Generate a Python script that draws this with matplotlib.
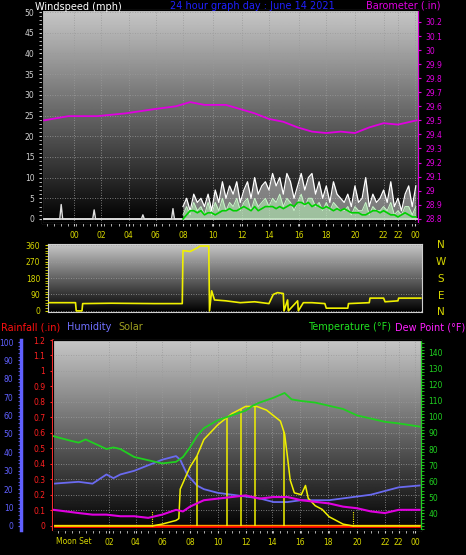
import matplotlib
matplotlib.use("Agg")
import matplotlib.pyplot as plt
import numpy as np

W, H = 466, 555

# ---- data (hours; axis runs slightly past both ends of the day) ----
baro_t = [-1.7, 0, 2, 4, 6, 7.5, 8.5, 9.5, 11, 12, 13, 14, 15, 16, 17, 18, 19, 20, 21, 22, 23, 24.3]
baro_v = [29.50, 29.53, 29.53, 29.55, 29.58, 29.60, 29.63, 29.61, 29.61, 29.58, 29.55, 29.51,
          29.49, 29.45, 29.42, 29.41, 29.42, 29.41, 29.45, 29.48, 29.47, 29.50]

calm_t = [-1.7, -0.6, -0.5, -0.4, 1.7, 1.8, 1.9, 5.1, 5.2, 5.3, 7.2, 7.3, 7.4, 7.9]
calm_gust = [0, 0, 3.5, 0, 0, 2.2, 0, 0, 1.0, 0, 0, 2.5, 0, 0]

wind_t0 = 8.0  # quarter-hour samples from here on
gust = [3, 5, 2, 6, 4, 5, 3, 6, 2,
        7, 4, 9, 5, 8, 6, 9, 4,
        7, 9, 5, 10, 6, 8, 9, 7,
        11, 8, 10, 6, 11, 9, 5, 8,
        11, 7, 10, 11, 6, 9, 5, 8,
        4, 9, 6, 5, 4, 6, 3, 8,
        4, 5, 10, 3, 6, 4, 5, 7,
        4, 9, 3, 5, 2, 6, 8, 3, 8]
speed = [1, 3, 1, 4, 2, 3, 1, 4, 1,
         4, 2, 5, 2, 4, 3, 5, 2,
         4, 5, 2, 5, 3, 4, 5, 3,
         5, 4, 6, 3, 5, 4, 2, 4,
         6, 3, 5, 5, 3, 4, 2, 4,
         2, 4, 3, 2, 2, 3, 1, 3,
         2, 2, 4, 1, 3, 2, 2, 3,
         2, 4, 1, 2, 1, 3, 3, 1, 3]
avg = [0, 1, 2, 2, 1.5, 2, 1, 1.5, 1.5,
       1, 1.5, 2, 2, 2.5, 2, 2, 2.5,
       3, 2.5, 2, 3, 2, 2.5, 3, 3,
       3, 2.5, 3, 2.5, 3, 3.5, 3, 4,
       4, 3.5, 4, 3, 3.5, 3, 2.5, 3,
       2.5, 2, 2.5, 2, 2.5, 2, 1.5, 1.5,
       1.5, 1, 1, 1.5, 2, 2, 1.5, 2,
       1.5, 1, 1, 0.5, 1, 1.5, 1, 0.5, 0.5]

dir_t = [-1.4, 0.5, 0.55, 0.95, 1.0, 3, 6, 7.95, 8.0, 8.5, 9.0, 9.2, 9.8, 9.85, 10.0, 10.2,
         11, 12, 13, 14, 14.3, 14.6, 15, 15.05, 15.3, 15.35, 16, 16.05, 16.4, 17, 17.9,
         18.0, 19.5, 19.55, 21, 21.05, 22, 22.1, 23, 23.05, 24.6]
dir_v = [45, 45, 0, 0, 40, 42, 40, 40, 330, 325, 345, 355, 355, 0, 110, 60,
         55, 45, 50, 40, 90, 100, 95, 0, 60, 0, 55, 0, 45, 45, 40,
         15, 15, 40, 45, 70, 70, 50, 55, 70, 70]

temp_t = [-1.8, -0.5, 0, 0.5, 1, 2, 2.5, 3, 4, 5, 6, 7, 7.5, 8, 8.5, 9, 10, 11, 12, 12.5,
          13, 14, 14.8, 15.3, 16, 17, 18, 19, 20, 21, 22, 23, 24.5]
temp_v = [88, 85, 84, 86, 84, 80, 81, 80, 75, 73, 71, 72, 75, 81, 88, 93, 98, 101, 104, 107,
          109, 112, 115, 111, 110, 109, 107, 105, 101, 99, 97, 96, 94]

hum_t = [-1.8, 0, 1, 2, 2.5, 3, 4, 5, 6, 7, 7.3, 7.8, 8.5, 9, 10, 11, 12, 13, 14, 15, 16,
         17, 18, 19, 20, 21, 22, 23, 24.5]
hum_v = [23, 24, 23, 28, 26, 28, 30, 33, 36, 38, 36, 28, 22, 20, 18, 17, 16, 15, 13, 13, 14,
         14, 14, 15, 16, 17, 19, 21, 22]

dew_t = [-1.8, 0, 1, 2, 3, 4, 5, 6, 7, 7.5, 8, 9, 10, 11, 12, 13, 14, 15, 16, 17, 18, 19,
         20, 21, 22, 23, 24.5]
dew_v = [42, 40, 39, 39, 38, 38, 37, 39, 42, 41, 44, 48, 49, 50, 51, 49, 50, 50, 48, 47,
         46, 44, 43, 41, 40, 42, 42]

solar_t = [-1.8, 5.3, 6, 7, 7.2, 7.3, 8, 8.5, 9, 10, 10.5, 11, 11.5, 12, 12.8, 13.5, 14,
           14.5, 14.8, 15, 15.2, 15.5, 16, 16.3, 16.5, 17, 17.5, 18, 19, 19.7, 24.5]
solar_v = [0, 0, 1, 3, 4, 20, 32, 38, 47, 55, 58, 61, 63, 65, 65, 63, 60,
           57, 50, 38, 25, 18, 17, 22, 15, 11, 9, 5, 1, 0, 0]
solar_spikes = [8.5, 10.65, 11.65, 12.67, 14.75]

top_ticks = [0.4, 2.3, 4.2, 6.1, 8, 10.1, 12.1, 14, 16.1, 18, 20, 22, 23, 24.2]
top_labels = ["00", "02", "04", "06", "08", "10", "12", "14", "16", "18", "20", "22", "22", "00"]
bot_ticks = [2.2, 4.1, 6.0, 8, 10, 12, 13.9, 15.9, 17.9, 20, 22, 23, 24.2]
bot_labels = ["02", "04", "06", "08", "10", "12", "14", "16", "18", "20", "22", "22", "00"]

YEL = "#d8d800"


def box(x0, y0, x1, y1):
    return [x0 / W, 1 - y1 / H, (x1 - x0) / W, (y1 - y0) / H]


def backdrop(ax):
    grad = np.linspace(0.78, 0.0, 256).reshape(-1, 1)
    ax.imshow(grad, extent=[0, 1, 0, 1], transform=ax.transAxes, cmap="gray",
              vmin=0, vmax=1, aspect="auto", zorder=0)
    ax.set_facecolor("black")
    ax.grid(True, color="#9a9a9a", ls=(0, (1, 2)), lw=0.6)
    for s in ax.spines.values():
        s.set_color("#d0d0d0")


fig = plt.figure(figsize=(W / 100, H / 100), dpi=100, facecolor="black")

# ---------------- wind / barometer ----------------
ax1 = fig.add_axes(box(42, 10, 418, 223))
backdrop(ax1)
ax1.set_xlim(-1.84, 24.4)
ax1.set_ylim(-0.97, 50.5)
ax1.set_yticks(range(0, 51, 5))
ax1.set_yticks(range(0, 51, 1), minor=True)
ax1.tick_params(axis="y", which="both", colors="#d0d0d0", labelsize=5.5, length=2)
ax1.set_xticks(top_ticks)
ax1.set_xticklabels(top_labels)
ax1.set_xticks(np.arange(-1.5, 24.4, 0.5), minor=True)
ax1.tick_params(axis="x", which="both", colors="#d0d0d0", labelcolor=YEL, labelsize=5.5, length=2)

wt = wind_t0 + 0.25 * np.arange(len(gust))
ax1.plot(calm_t, calm_gust, color="#e0e0e0", lw=1, zorder=3)
ax1.fill_between(wt, 0, gust, color="#d8d8d8", alpha=0.55, lw=0, zorder=3)
ax1.plot(wt, gust, color="white", lw=0.9, zorder=3)
ax1.fill_between(wt, 0, speed, color="#b8f0b8", alpha=0.6, lw=0, zorder=4)
ax1.plot(wt, speed, color="#c8f8c8", lw=0.7, zorder=4)
ax1.plot(wt, avg, color="#00d000", lw=1.2, zorder=5)
ax1.axhline(0, color="#e0e0e0", lw=1.2, zorder=2)

axb = ax1.twinx()
axb.set_ylim(28.77, 30.285)
bt = np.round(np.arange(28.8, 30.21, 0.1), 1)
axb.set_yticks(bt)
axb.set_yticklabels([f"{v:g}" for v in bt])
axb.tick_params(axis="y", colors="#e000e0", labelsize=5.5, length=2)
axb.spines["right"].set_color("#e000e0")
axb.plot(baro_t, baro_v, color="#e000e0", lw=1.3)

fig.text(35 / W, 1 - 7 / H, "Windspeed (mph)", color="white", fontsize=7, va="center")
fig.text(252 / W, 1 - 6 / H, "24 hour graph day : June 14 2021", color="#2020ff",
         fontsize=7, va="center", ha="center")
fig.text(440 / W, 1 - 6 / H, "Barometer (.in)", color="#e000e0", fontsize=7,
         va="center", ha="right")

# ---------------- wind direction ----------------
ax2 = fig.add_axes(box(48, 244, 422, 312))
backdrop(ax2)
ax2.set_xlim(-1.42, 24.68)
ax2.set_ylim(-6, 366)
ax2.set_yticks([0, 90, 180, 270, 360])
ax2.set_yticks(range(0, 361, 15), minor=True)
ax2.tick_params(axis="y", which="both", colors=YEL, labelsize=5.5, length=2)
ax2.set_xticks([])
ax2.plot(dir_t, dir_v, color="#f0f000", lw=1.2, zorder=3)
for lab, yy in zip("NWSEN", [245, 262, 279, 296, 312]):
    fig.text(441 / W, 1 - yy / H, lab, color=YEL, fontsize=7.5, ha="center", va="center")

# ---------------- temperature / humidity / solar / rain ----------------
ax3 = fig.add_axes(box(53, 340, 421, 530))
backdrop(ax3)
ax3.set_xlim(-1.84, 24.6)
ax3.set_ylim(-0.026, 1.197)
rt = np.round(np.arange(0, 1.21, 0.1), 1)
ax3.set_yticks(rt)
ax3.set_yticklabels([f"{v:g}" for v in rt])
ax3.tick_params(axis="y", colors="#ff2020", labelsize=5.5, length=2)
ax3.spines["left"].set_color("#ff3030")
ax3.spines["left"].set_linestyle((0, (1, 1)))
ax3.spines["left"].set_linewidth(1.5)
ax3.set_xticks(bot_ticks)
ax3.set_xticklabels(bot_labels)
ax3.set_xticks(np.arange(-1.5, 24.5, 0.5), minor=True)
ax3.tick_params(axis="x", which="both", colors="#d0d0d0", labelcolor=YEL, labelsize=5.5, length=2)
ax3.axhline(0, color="#ff0000", lw=2, zorder=6)
ax3.axhline(0.004, color="#ff9900", lw=1, zorder=6)

axh = ax3.twinx()
axh.set_ylim(-2.2, 101.1)
axh.spines["left"].set_position(("outward", 23))
axh.spines["left"].set_visible(True)
axh.spines["left"].set_color("#6060ff")
axh.spines["left"].set_linewidth(2.5)
axh.yaxis.set_ticks_position("left")
axh.set_yticks(range(0, 101, 10))
axh.set_yticks(range(0, 101, 2), minor=True)
axh.tick_params(axis="y", which="both", colors="#6060ff", labelsize=5.5, length=2)
axh.plot(hum_t, hum_v, color="#6a6af0", lw=1.3, zorder=3)
axh.plot(solar_t, solar_v, color="#f0f000", lw=1.1, zorder=4)
sv = np.interp(solar_spikes, solar_t, solar_v)
axh.vlines(solar_spikes, 0, sv, color="#f0f000", lw=1.1, zorder=4)
axh.vlines([5.3, 19.7], 0, 8, color="#f0f000", lw=0.8, ls=(0, (1, 1)), zorder=4)

axt = ax3.twinx()
axt.set_ylim(29.4, 148.1)
axt.set_yticks(range(40, 141, 10))
axt.set_yticks(range(30, 148, 2), minor=True)
axt.tick_params(axis="y", which="both", colors="#20d020", labelsize=5.5, length=2)
axt.spines["right"].set_color("#20d020")
axt.plot(temp_t, temp_v, color="#20d020", lw=1.3, zorder=5)
axt.plot(dew_t, dew_v, color="#e000e0", lw=1.5, zorder=4)

fig.text(1 / W, 1 - 327 / H, "Rainfall (.in)", color="#ff1010", fontsize=7, va="center")
fig.text(67 / W, 1 - 327 / H, "Humidity", color="#7070ff", fontsize=7, va="center")
fig.text(118 / W, 1 - 327 / H, "Solar", color="#a0a020", fontsize=7, va="center")
fig.text(391 / W, 1 - 327 / H, "Temperature (°F)", color="#20e020", fontsize=7,
         va="center", ha="right")
fig.text(465 / W, 1 - 327 / H, "Dew Point (°F)", color="#ff20ff", fontsize=7,
         va="center", ha="right")
fig.text(56 / W, 1 - 541 / H, "Moon Set", color=YEL, fontsize=5.5, va="center")

fig.savefig("out.png", dpi=100, facecolor="black")
